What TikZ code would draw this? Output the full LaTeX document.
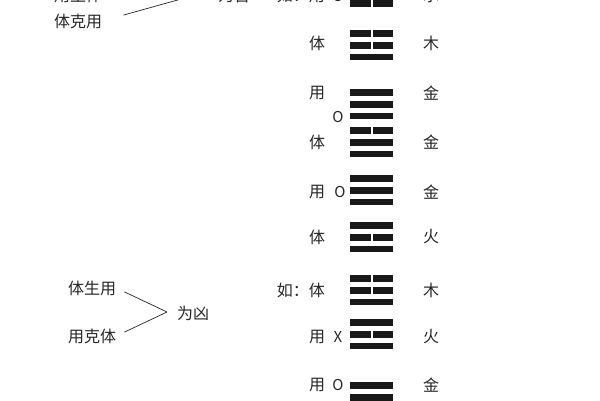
\documentclass[tikz,border=0pt]{standalone}
\usepackage{fontspec}
\setmainfont{Noto Sans CJK SC}
\usepackage{tikz}

\begin{document}
\begin{tikzpicture}[x=1pt,y=-1pt,auto]
    \useasboundingbox (0,0) rectangle (600,400);
    \clip (0,0) rectangle (600,400);
    \begin{scope}[every node/.style={inner sep=0pt,text=black!85,font=\fontsize{16}{16}\selectfont}]
        \node (A) at (78,-5) {用生体};
        \node (B) at (78,21) {体克用};
        \node[anchor=west] (C) at (218,-5) {为吉};
        \node (D) at (92,288) {体生用};
        \node (E) at (92,336) {用克体};
        \node[anchor=west] (F) at (177,313) {为凶};
        \node[anchor=east] (t1) at (325,-5) {如：用};
        \node (t2) at (317,43) {体};
        \node (t3) at (317,93) {用};
        \node (t4) at (317,142) {体};
        \node (t5) at (317,192) {用};
        \node (t6) at (317,237) {体};
        \node[anchor=east] (t7) at (325,290) {如：体};
        \node (t8) at (317,337) {用};
        \node (t9) at (317,385) {用};
        \node (w1) at (431,-5) {水};
        \node (w2) at (431,43) {木};
        \node (w3) at (431,93) {金};
        \node (w4) at (431,142) {金};
        \node (w5) at (431,192) {金};
        \node (w6) at (431,237) {火};
        \node (w7) at (431,290) {木};
        \node (w8) at (431,337) {火};
        \node (w9) at (431,385) {金};
    \end{scope}
    \begin{scope}[every node/.style={inner sep=0pt,text=black!85,font=\fontsize{15}{15}\selectfont}]
        \node (o1) at (338,-4) {O};
        \node (o3) at (338,117) {O};
        \node (o5) at (340,192) {O};
        \node (x8) at (338,337) {X};
        \node (o9) at (338,385) {O};
    \end{scope}
    \coordinate (P) at (210,-9);
    \coordinate (Q) at (167,312);
    \begin{scope}[every edge/.style={draw=black!85,line width=0.7pt}]
        \draw (B.east) edge[shorten <=22pt] (P);
        \draw (D.east) edge[shorten <=9pt] (Q);
        \draw (E.east) edge[shorten <=9pt] (Q);
    \end{scope}
    % trigram bars, top to bottom: 1 = yang, 0 = yin
    \foreach \y/\a/\b/\c in {-23.6/0/1/0, 30/0/0/1, 89/1/1/1, 127/0/1/1, 175/1/1/1,
                             222/1/0/1, 275/0/0/1, 319/1/0/1, 382/1/1/1} {
        \foreach \v [count=\i] in {\a,\b,\c} {
            \pgfmathsetmacro\ty{\y+(\i-1)*11.8}
            \fill[black!90] (350,\ty) rectangle (393,\ty+6.8);
            \ifnum\v=0 \fill[white] (370.8,\ty-1) rectangle (372.8,\ty+8); \fi
        }
    }
\end{tikzpicture}
\end{document}
